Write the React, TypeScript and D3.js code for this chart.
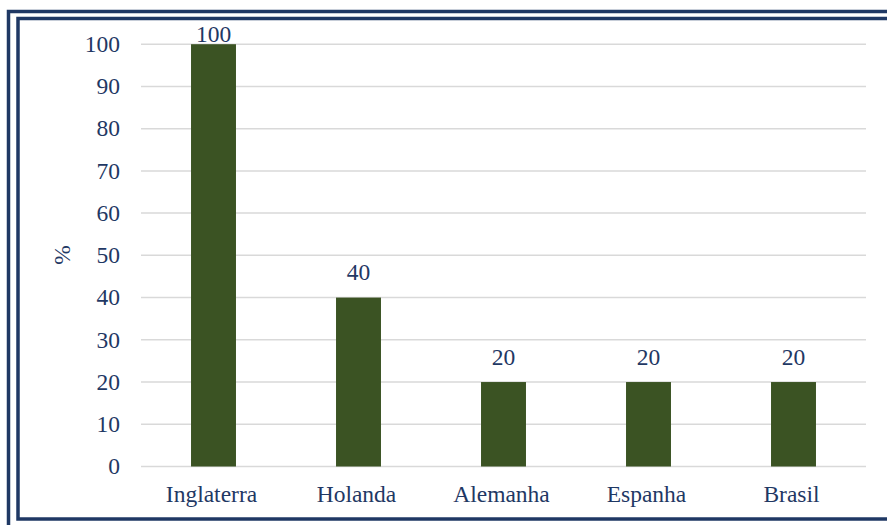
import React from "react";
import * as d3 from "d3";

const categories = ["Inglaterra", "Holanda", "Alemanha", "Espanha", "Brasil"];
const values = [100, 40, 20, 20, 20];
const yTicks = [0, 10, 20, 30, 40, 50, 60, 70, 80, 90, 100];
const yLabel = "%";

const W = 887;
const H = 525;
const navy = "#1F3864";
const barColor = "#3B5323";
const gridColor = "#D9D9D9";
const font = "Liberation Serif, Times New Roman, serif";
const fs = 23.5;

export default function App() {
  const x = d3.scaleBand<string>().domain(categories).range([141, 866]).paddingInner(0.69).paddingOuter(0.345);
  const y = d3.scaleLinear().domain([0, 100]).range([466.5, 44.2]);
  const band = x.step();
  const bw = band * 0.31;

  return (
    <svg width={W} height={H} style={{ position: "absolute", left: 0, top: 0, background: "#fff" }}>
      <rect x={8.5} y={11.5} width={W + 20} height={H} fill="none" stroke={navy} strokeWidth={3.5} />
      <rect x={18} y={18.5} width={W + 20} height={500.5} fill="none" stroke={navy} strokeWidth={3.5} />
      {yTicks.map((t) => (
        <g key={t}>
          <line x1={141} x2={866} y1={y(t)} y2={y(t)} stroke={gridColor} strokeWidth={1.5} />
          <text x={120} y={y(t)} dy="0.33em" textAnchor="end" fontFamily={font} fontSize={fs} fill={navy}>
            {t}
          </text>
        </g>
      ))}
      <text
        transform={`translate(70, 255) rotate(-90)`}
        textAnchor="middle"
        fontFamily={font}
        fontSize={fs}
        fill={navy}
      >
        {yLabel}
      </text>
      {categories.map((c, i) => {
        const cx = (x(c) as number) + x.bandwidth() / 2;
        const top = y(values[i]);
        return (
          <g key={c}>
            <rect x={cx - bw / 2} y={top} width={bw} height={y(0) - top} fill={barColor} />
            <text
              x={cx}
              y={Math.max(top - 17.5, 41.5)}
              textAnchor="middle"
              fontFamily={font}
              fontSize={fs}
              fill={navy}
            >
              {values[i]}
            </text>
            <text x={cx - 2} y={501.5} textAnchor="middle" fontFamily={font} fontSize={fs} fill={navy}>
              {c}
            </text>
          </g>
        );
      })}
    </svg>
  );
}
